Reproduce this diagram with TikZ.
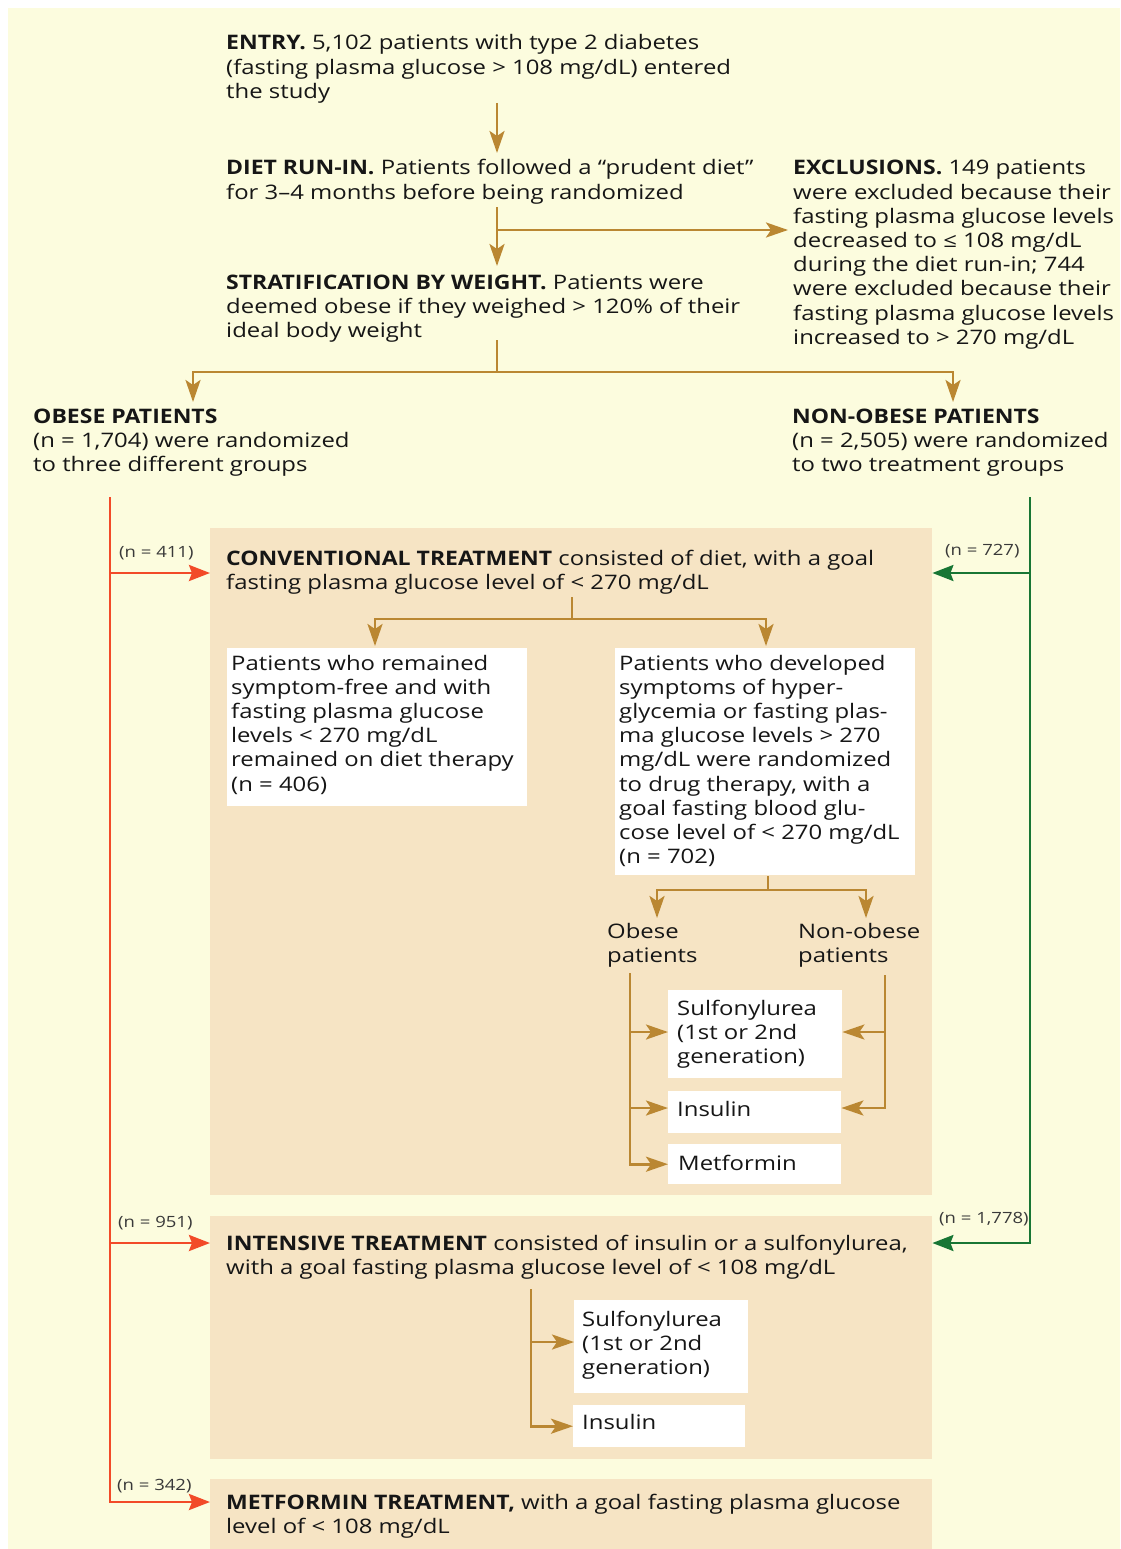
\documentclass[tikz,border=0pt]{standalone}
\usepackage{fontspec}
\setmainfont{Open Sans}[UprightFeatures={FakeStretch=1.195}, BoldFeatures={FakeStretch=1.15}]
\usetikzlibrary{arrows.meta}
\definecolor{bgcream}{RGB}{252,252,222}
\definecolor{tanbox}{RGB}{246,228,196}
\definecolor{brownarr}{RGB}{186,135,50}
\definecolor{redarr}{RGB}{242,74,40}
\definecolor{greenarr}{RGB}{24,118,52}
\definecolor{txt}{RGB}{22,22,22}
\newcommand{\ml}[1]{\vtop{\halign{##\hfil\cr#1\crcr}}}
\tikzset{
  txtnode/.style={anchor=base west, inner sep=0pt, text=txt, font=\fontsize{20}{24.2}\selectfont},
  smalllbl/.style={anchor=base west, inner sep=0pt, text=txt!85, font=\fontsize{15.5}{17}\selectfont},
  tanrect/.style={fill=tanbox, draw=none, inner sep=0pt, anchor=north west},
  whitebox/.style={fill=white, draw=none, inner sep=0pt, anchor=north west},
  brownline/.style={draw=brownarr, line width=2.7pt},
  brownarrow/.style={brownline, -{Stealth[length=22pt,width=15pt,inset=5pt]}},
  redline/.style={draw=redarr, line width=2.8pt},
  redarrow/.style={redline, -{Stealth[length=21pt,width=16pt,inset=3pt]}},
  greenline/.style={draw=greenarr, line width=2.6pt},
  greenarrow/.style={greenline, -{Stealth[length=21pt,width=16pt,inset=3pt]}},
}
\begin{document}
\begin{tikzpicture}[x=1pt,y=-1pt]
\useasboundingbox (0,0) rectangle (1120,1549);
\fill[white] (0,0) rectangle (1120,1549);
\fill[bgcream] (8,8) rectangle (1120,1549);

% tan panels
\node[tanrect, minimum width=722pt, minimum height=667pt] (conv) at (210,528) {};
\node[tanrect, minimum width=722pt, minimum height=243pt] (inten) at (210,1216) {};
\node[tanrect, minimum width=722pt, minimum height=70pt] (metf) at (210,1479) {};

% white boxes
\node[whitebox, minimum width=300pt, minimum height=158pt] (wb1) at (227,648) {};
\node[whitebox, minimum width=300pt, minimum height=227pt] (wb2) at (615,648) {};
\node[whitebox, minimum width=174pt, minimum height=88pt] (sb1) at (668,990) {};
\node[whitebox, minimum width=173pt, minimum height=42pt] (in1) at (668,1091) {};
\node[whitebox, minimum width=173pt, minimum height=40pt] (mf1) at (668,1144) {};
\node[whitebox, minimum width=174pt, minimum height=93pt] (sb2) at (574,1300) {};
\node[whitebox, minimum width=172pt, minimum height=42pt] (in2) at (573,1405) {};

% texts
\node[txtnode] (entry) at (226,50) {\ml{\textbf{ENTRY.} 5,102 patients with type 2 diabetes\cr (fasting plasma glucose > 108 mg/dL) entered\cr the study}};
\node[txtnode] (diet) at (226,175) {\ml{\textbf{DIET RUN-IN.} Patients followed a “prudent diet”\cr for 3–4 months before being randomized}};
\node[txtnode] (excl) at (793,175) {\ml{\textbf{EXCLUSIONS.} 149 patients\cr were excluded because their\cr fasting plasma glucose levels\cr decreased to ≤ 108 mg/dL\cr during the diet run-in; 744\cr were excluded because their\cr fasting plasma glucose levels\cr increased to > 270 mg/dL}};
\node[txtnode] (strat) at (226,289) {\ml{\textbf{STRATIFICATION BY WEIGHT.} Patients were\cr deemed obese if they weighed > 120\% of their\cr ideal body weight}};
\node[txtnode] (obese) at (33,423) {\ml{\textbf{OBESE PATIENTS}\cr (n = 1,704) were randomized\cr to three different groups}};
\node[txtnode] (nonobese) at (792,423) {\ml{\textbf{NON-OBESE PATIENTS}\cr (n = 2,505) were randomized\cr to two treatment groups}};
\node[txtnode] (convt) at (226,565) {\ml{\textbf{CONVENTIONAL TREATMENT} consisted of diet, with a goal\cr fasting plasma glucose level of < 270 mg/dL}};
\node[txtnode] (wb1t) at (231,670) {\ml{Patients who remained\cr symptom-free and with\cr fasting plasma glucose\cr levels < 270 mg/dL\cr remained on diet therapy\cr (n = 406)}};
\node[txtnode] (wb2t) at (619,670) {\ml{Patients who developed\cr symptoms of hyper-\cr glycemia or fasting plas-\cr ma glucose levels > 270\cr mg/dL were randomized\cr to drug therapy, with a\cr goal fasting blood glu-\cr cose level of < 270 mg/dL\cr (n = 702)}};
\node[txtnode] (obp) at (607,938) {\ml{Obese\cr patients}};
\node[txtnode] (nobp) at (798,938) {\ml{Non-obese\cr patients}};
\node[txtnode] (sb1t) at (677,1015) {\ml{Sulfonylurea\cr (1st or 2nd\cr generation)}};
\node[txtnode] (in1t) at (677,1116) {Insulin};
\node[txtnode] (mf1t) at (678,1170) {Metformin};
\node[txtnode] (intt) at (226,1250) {\ml{\textbf{INTENSIVE TREATMENT} consisted of insulin or a sulfonylurea,\cr with a goal fasting plasma glucose level of < 108 mg/dL}};
\node[txtnode] (sb2t) at (582,1326) {\ml{Sulfonylurea\cr (1st or 2nd\cr generation)}};
\node[txtnode] (in2t) at (582,1429) {Insulin};
\node[txtnode] (mett) at (226,1509) {\ml{\textbf{METFORMIN TREATMENT,} with a goal fasting plasma glucose\cr level of < 108 mg/dL}};

% small labels
\node[smalllbl] (n411) at (119,557) {(n = 411)};
\node[smalllbl] (n727) at (945,555) {(n = 727)};
\node[smalllbl] (n951) at (118,1227) {(n = 951)};
\node[smalllbl] (n1778) at (939,1223) {(n = 1,778)};
\node[smalllbl] (n342) at (117,1490) {(n = 342)};

% brown connectors: top trunk
\coordinate (a0) at (497,103);
\coordinate (a1) at (497,153);
\draw[brownarrow] (a0) -- (a1);
\coordinate (b0) at (497,207);
\coordinate (b1) at (497,266);
\coordinate (bx) at (497,230);
\coordinate (bxe) at (788,230);
\draw[brownarrow] (b0) -- (b1);
\draw[brownarrow] (bx) -- (bxe);
\coordinate (c0) at (497,340);
\coordinate (c1) at (497,372);
\coordinate (cl) at (193,402);
\coordinate (cr) at (953,402);
\draw[brownline] (c0) -- (c1);
\draw[brownarrow] (c1) -| (cl);
\draw[brownarrow] (c1) -| (cr);

% conventional split
\coordinate (d0) at (572,597);
\coordinate (d1) at (572,619);
\coordinate (dl) at (375,646);
\coordinate (dr) at (766,646);
\draw[brownline] (d0) -- (d1);
\draw[brownarrow] (d1) -| (dl);
\draw[brownarrow] (d1) -| (dr);

% drug split
\coordinate (e0) at (768,876);
\coordinate (e1) at (768,890);
\coordinate (el) at (657,918);
\coordinate (er) at (866,918);
\draw[brownline] (e0) -- (e1);
\draw[brownarrow] (e1) -| (el);
\draw[brownarrow] (e1) -| (er);

% obese drug options
\coordinate (f0) at (630,973);
\coordinate (f1) at (630,1032);
\coordinate (f2) at (630,1108);
\draw[brownarrow] (f0) |- (mf1.west);
\draw[brownarrow] (f1) -- (f1 -| sb1.west);
\draw[brownarrow] (f2) -- (f2 -| in1.west);
% non-obese drug options
\coordinate (h0) at (885,975);
\coordinate (h1) at (885,1032);
\draw[brownarrow] (h0) |- (in1.east |- 0,1108);
\draw[brownarrow] (h1) -- (h1 -| sb1.east);

% intensive options
\coordinate (k0) at (531,1289);
\coordinate (k1) at (531,1342);
\draw[brownarrow] (k0) |- (in2.west);
\draw[brownarrow] (k1) -- (k1 -| sb2.west);

% red connectors
\coordinate (r0) at (110,497);
\coordinate (r1) at (110,573);
\coordinate (r2) at (110,1243);
\draw[redarrow] (r0) |- (metf.west |- 0,1502);
\draw[redarrow] (r1) -- (r1 -| conv.west);
\draw[redarrow] (r2) -- (r2 -| inten.west);

% green connectors
\coordinate (g0) at (1030,497);
\coordinate (g1) at (1030,573);
\draw[greenarrow] (g0) |- (inten.east |- 0,1243);
\draw[greenarrow] (g1) -- (g1 -| conv.east);
\end{tikzpicture}
\end{document}
